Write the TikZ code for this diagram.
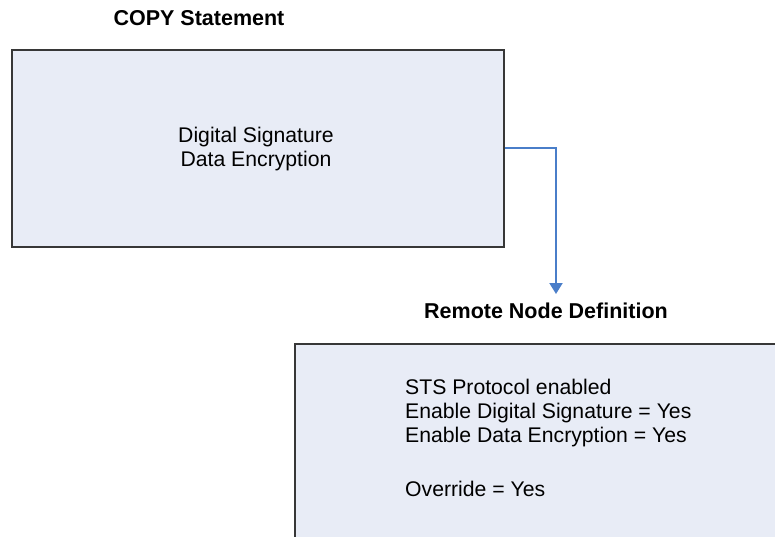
\documentclass[tikz,border=0pt]{standalone}
\usepackage{fontspec}
\setmainfont{Liberation Sans}
\usetikzlibrary{arrows.meta, positioning}
\definecolor{boxfill}{RGB}{232,236,246}
\definecolor{boxline}{RGB}{55,55,55}
\definecolor{linkblue}{RGB}{74,126,201}
\tikzset{
  panel/.style={draw=boxline, fill=boxfill, line width=1.8pt, inner sep=0pt},
  heading/.style={font=\fontsize{21.5}{24}\selectfont\bfseries, inner sep=0pt},
  body/.style={font=\fontsize{21.2}{24}\selectfont, inner sep=0pt}
}
\begin{document}
\begin{tikzpicture}[x=1pt, y=-1pt]
\useasboundingbox (0,0) rectangle (775,537);
\node [heading] (copyTitle) at (199,18) {COPY Statement};
\node [panel, minimum width=492pt, minimum height=197pt, anchor=north west] (copy) at (11,49) {};
\node [body, align=center] (copyText) at (256,149) {Digital Signature\\Data Encryption};
\node [heading] (remoteTitle) at (546,311) {Remote Node Definition};
\node [panel, minimum width=500pt, minimum height=210pt, anchor=north west] (remote) at (294,343) {};
\node [body, align=left, anchor=north west] (remoteText) at (405,379) {STS Protocol enabled\\Enable Digital Signature = Yes\\Enable Data Encryption = Yes\\[30pt]Override = Yes};
\coordinate (arrowEnd) at (556,294);
\draw [-{Triangle[width=13pt, length=11pt]}, linkblue, line width=2pt] (copy.east) -| (arrowEnd);
\end{tikzpicture}
\end{document}
